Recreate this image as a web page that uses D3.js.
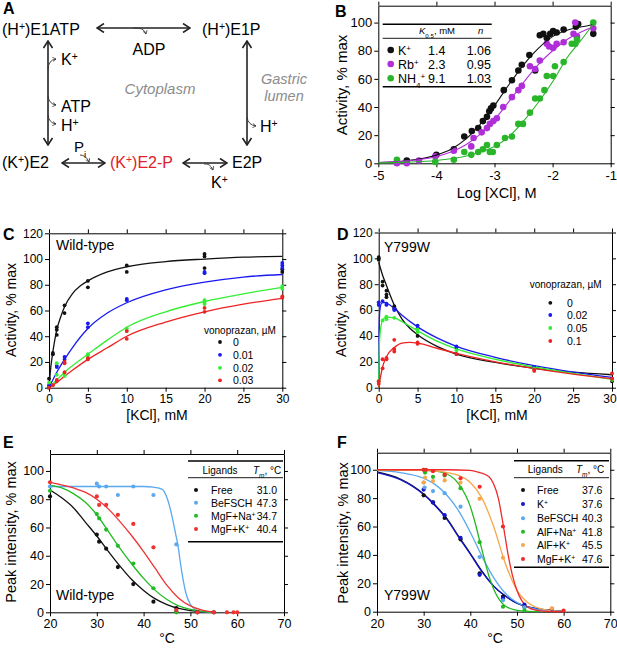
<!doctype html>
<html lang="en">
<head>
<meta charset="utf-8">
<title>H,K-ATPase cation and vonoprazan figure</title>
<script src="https://d3js.org/d3.v7.min.js"></script>
<style>
  body { margin: 0; background: #fff; }
  svg text { font-family: "Liberation Sans", Arial, sans-serif; }
</style>
</head>
<body>
<svg id="fig" xmlns="http://www.w3.org/2000/svg" width="617" height="650"></svg>
<script>

// ---------- B : log[XCl] (M) vs activity (% max)
var bCations = ["K^{+}", "Rb^{+}", "NH_{4}^{+}"];
var bK05 = ["1.4", "2.3", "9.1"];
var bHillN = ["1.06", "0.95", "1.03"];
var bXTicks = [-5, -4, -3, -2, -1];
var bYTicks = [0, 20, 40, 60, 80, 100];
var bPtsK = [[-4.51,2],[-4.0,6],[-3.7,10],[-3.52,19],[-3.39,23],[-3.28,25],[-3.2,30],[-3.13,33],
  [-3.09,37],[-3.06,39],[-3.02,41],[-2.84,52],[-2.7,59],[-2.59,66],[-2.53,70],[-2.4,77],[-2.3,66],
  [-2.22,91],[-2.16,92],[-2.1,89],[-2.04,92],[-1.99,94],[-1.93,93],[-1.81,95],[-1.6,97],[-1.56,99],[-1.3,92]];
var bPtsRb = [[-4.68,0],[-4.51,0],[-4.3,2],[-4.02,5],[-3.7,9],[-3.4,12],[-3.36,18],[-3.22,22],[-3.13,25],
  [-3.08,28],[-3.02,30],[-2.96,32],[-2.85,40],[-2.7,47],[-2.59,52],[-2.53,55],[-2.39,69],[-2.3,67],
  [-2.22,73],[-2.1,85],[-2.06,83],[-1.99,82],[-1.93,85],[-1.81,86],[-1.64,92],[-1.61,100],[-1.58,90],[-1.3,96]];
var bPtsNH4 = [[-4.68,2.5],[-4.02,1],[-3.7,2.5],[-3.52,8],[-3.4,6],[-3.28,8],[-3.2,10],[-3.13,13],[-3.08,8],
  [-3.03,8],[-2.96,13],[-2.82,18],[-2.7,19],[-2.59,28],[-2.51,28],[-2.39,36],[-2.3,46],[-2.22,46],
  [-2.14,52],[-2.1,62],[-1.99,62],[-1.96,69],[-1.81,72],[-1.67,85],[-1.61,85],[-1.58,88],[-1.3,100]];
var bFitK = [[-5,0.5],[-4.5,1.8],[-4,5.8],[-3.75,10],[-3.5,17],[-3.25,27.5],[-3,41],[-2.75,56],[-2.5,70],
  [-2.25,81.5],[-2,90],[-1.75,94.5],[-1.5,97],[-1.3,98.5]];
var bFitRb = [[-5,0.6],[-4.5,1.7],[-4,4.8],[-3.75,8],[-3.5,13],[-3.25,20.5],[-3,31],[-2.75,44],[-2.5,57.5],
  [-2.25,70],[-2,80],[-1.75,88],[-1.5,93.5],[-1.3,97]];
var bFitNH4 = [[-5,0.3],[-4.5,0.8],[-4,2],[-3.5,5],[-3.25,8],[-3,12],[-2.75,19],[-2.5,30],[-2.25,43],
  [-2,58],[-1.75,75],[-1.5,88],[-1.3,99]];

// ---------- C : wild-type, [KCl] (mM) vs activity
var cDoses = ["0", "0.01", "0.02", "0.03"];
var kclTicks = [0, 5, 10, 15, 20, 25, 30];
var actTicks = [0, 20, 40, 60, 80, 100, 120];
var cPts0 = [[0,7],[0,0],[0.5,27],[0.5,26],[1,47],[1,45],[1,41],[2,64],[2,58],[5,83],[5,78],[10,95],[10,90],
  [20,104],[20,102],[20,93],[30,92],[30,90]];
var cPts001 = [[0,2],[1,17],[1,16],[2,24],[2,22],[5,50],[5,47],[10,69],[10,68],[20,90],[20,89],[30,97],[30,95],[30,93]];
var cPts002 = [[0,4],[1,19],[1,10],[2,10],[2,9],[5,26],[5,25],[10,46],[10,44],[20,68],[20,66],[20,65],[30,79],[30,77]];
var cPts003 = [[0,0],[0.5,2],[1,6],[1,5],[2,20],[2,19],[2,12],[5,23],[5,22],[10,44],[10,38],[20,62],[20,59],[30,71],[30,70]];
var cFit0 = [[0,0],[0.25,17],[0.5,28],[1,45],[1.5,55],[2,63],[3,73],[4,79],[5,83],[7.5,90],[10,94],[15,98],
  [20,100],[25,101.5],[30,102]];
var cFit001 = [[0,0],[1,12],[2,22],[3,31],[5,46],[7.5,58],[10,66],[15,76],[20,82],[25,86],[30,88]];
var cFit002 = [[0,0],[1,6],[2,12],[3,17],[5,26],[7.5,37],[10,47],[15,59],[20,67],[25,73],[30,78]];
var cFit003 = [[0,0],[1,4],[2,9],[3,13.5],[5,22],[7.5,31],[10,40],[15,51],[20,59],[25,65],[30,69.5]];

// ---------- D : Y799W
var dDoses = ["0", "0.02", "0.05", "0.1"];
var dPts0 = [[0,101],[0,100],[0,99],[0.5,82],[0.5,79],[1,75],[1,72],[1,70],[2,63],[2,61],[5,40],[10,26],[20,15],[30,5]];
var dPts002 = [[0,66],[0,64],[0.5,67],[1,65],[1,64],[2,61],[2,60],[5,48],[5,46],[10,32],[10,31],[20,16],[30,7]];
var dPts005 = [[0,5],[0.5,52],[1,55],[1,53],[2,54],[5,45],[5,43],[10,29],[20,15],[30,6]];
var dPts01 = [[0,5],[0,3],[0.5,22],[0.5,15],[1,23],[1,22],[2,37],[2,30],[2,28],[5,35],[5,34],[10,26],
  [20,14],[20,13],[30,11],[30,7]];
var dFit0 = [[0,97],[0.5,87],[1,79],[2,64],[3,53],[4,46],[5,41],[7.5,32],[10,26],[15,19.5],[20,15],[25,12],[30,10]];
var dFit002 = [[0,0],[0.05,45],[0.15,60],[0.4,65.5],[0.8,66],[1,65.5],[2,61.5],[3,56],[5,47],[7.5,38.5],
  [10,32],[15,23.5],[20,17],[25,12],[30,8]];
var dFit005 = [[0,0],[0.1,35],[0.3,48],[0.6,53],[1,54.5],[2,54],[3,51],[5,44],[7.5,36],[10,30],[15,22],
  [20,16],[25,11],[30,6.5]];
var dFit01 = [[0,0],[0.25,9],[0.5,16],[1,24],[2,31],[3,34.5],[4,35],[5,34.5],[7.5,30.5],[10,26.5],[15,20],
  [20,15],[25,10.5],[30,7]];

// ---------- E : wild-type thermal shift
var tempTicks = [20, 30, 40, 50, 60, 70];
var peakTicks = [0, 20, 40, 60, 80, 100];
var eLigands = ["Free", "BeFSCH", "MgF+Na^{+}", "MgF+K^{+}"];
var eTm = ["31.0", "47.3", "34.7", "40.4"];
var ePtsFree = [[20,82],[30,55],[30.5,50],[32,45],[34.5,32],[37.8,20],[42.1,7.5],[47,3],[47,0.5],[51.5,0],[55,0]];
var ePtsBeF = [[20,89],[30,91],[30.5,89],[32,89],[34.5,83],[37.8,89],[42.1,83],[47,48]];
var ePtsMgNa = [[20,86],[30,69.5],[30.5,66.5],[32,58.5],[34.5,47],[37.8,34.5],[42.1,17],[47,0]];
var ePtsMgK = [[20,92],[30,82],[30.5,76],[32,76],[34.5,69],[37.8,62.5],[42.1,46],[47,1.6],[51.5,0],
  [55,0],[57.8,0],[59.2,0],[60,0]];
var eFitFree = [[20,86.5],[22.5,81],[25,74],[27.5,64],[30,54],[32.5,43],[35,32.5],[37.5,23],[40,15.5],
  [42.5,9.5],[45,5.5],[47.5,2.7],[50,1.2],[52.5,0.4],[55,0]];
var eFitBeF = [[20,89],[40,89],[42,88.5],[44,87],[45,81],[46,69],[47,53],[47.3,48],[48,32],[48.5,22],
  [49,14],[50,5.5],[51,2],[52,0.7],[55,0]];
var eFitMgNa = [[20,90],[22.5,88],[25,84],[27.5,78],[30,69],[32.5,57],[35,45],[37.5,34],[40,24],[42.5,15.5],
  [45,9],[47.5,4.5],[50,2],[52.5,0.6],[55,0]];
var eFitMgK = [[20,92],[25,88],[27.5,85],[30,80],[32.5,73],[35,64],[37.5,54],[40,43],[42.5,31],[45,19],
  [47.5,10],[50,4.5],[52.5,1.5],[55,0]];

// ---------- F : Y799W thermal shift
var fLigands = ["Free", "K^{+}", "BeFSCH", "AlF+Na^{+}", "AlF+K^{+}", "MgF+K^{+}"];
var fTm = ["37.6", "37.6", "40.3", "41.8", "45.5", "47.6"];
var fPtsFree = [[30,82],[32,77],[34.5,66],[37.9,51],[42,27],[47,10.6],[51.6,3.5]];
var fPtsK = [[30,86],[32,77],[34.5,68],[37.9,52],[42,26],[47,9.5],[51.6,5],[57.5,2]];
var fPtsBeF = [[30,91],[30.2,87.5],[32,85],[34.5,83.5],[37.9,74],[42,38.5],[47,8],[51.6,3]];
var fPtsAlNa = [[30,100],[30.3,98],[32,95],[34.5,96],[37.9,87],[42,49],[47,3.5],[51.6,1]];
var fPtsAlK = [[30,91],[30.3,94.5],[32,92],[34.5,92.5],[37.9,91],[42,79.5],[47,38],[57.5,2.4]];
var fPtsMgK = [[30,100],[30.5,100],[32,99],[34.5,96.5],[37.9,94],[42,88],[47,60],[60,0.7]];
var fFitFree = [[20,98.5],[25,93.5],[30,83],[32.5,75],[35,65.5],[37.5,53],[40,41],[42.5,28.5],[45,18],
  [47.5,11],[50,6],[52.5,3.2],[55,1.7],[57.5,0.9],[60,0.4]];
var fFitK = [[20,98],[25,93],[30,82.5],[32.5,74.5],[35,65],[37.5,52.5],[40,40.5],[42.5,28],[45,18],
  [47.5,11],[50,6],[52.5,3.3],[55,1.8],[57.5,1],[60,0.5]];
var fFitBeF = [[20,99.5],[25,98],[30,94],[32.5,89.5],[35,82],[37.5,71],[40,56],[42.5,39],[45,24],
  [47.5,13],[50,6.5],[52.5,3],[55,1.2],[57.5,0.5],[60,0.2]];
var fFitAlNa = [[20,100],[30,99.5],[32.5,99],[35,97],[37.5,90],[40,74],[41,63],[42,50],[43,37],[44,25],
  [45,16],[47.5,4],[50,1],[52.5,0.3],[55,0]];
var fFitAlK = [[20,100],[30,99.5],[35,98],[37.5,96],[40,91],[42.5,80],[45,60],[47.5,34],[50,15],
  [52.5,6],[55,2.2],[57.5,0.8],[60,0.3]];
var fFitMgK = [[20,100],[35,100],[40,99.5],[42,98],[44,95],[45,90],[46,80],[47,62],[47.6,50],[48,42],
  [49,26],[50,15],[51,8],[52,4],[53,2],[55,0.6],[57.5,0.1],[60,0]];

var FONT = '"Liberation Sans", Arial, sans-serif';
var svg = d3.select("#fig");

// text with ^{sup} and _{sub} pieces
function rich(sel, str) {
  str.split(/(\^\{[^}]*\}|_\{[^}]*\})/).forEach(function (p) {
    if (!p) return;
    if (p[0] === "^" || p[0] === "_") {
      sel.append("tspan")
        .attr("baseline-shift", p[0] === "^" ? "super" : "sub")
        .attr("font-size", "65%")
        .text(p.slice(2, -1));
    } else {
      sel.append("tspan").text(p);
    }
  });
  return sel;
}

function txt(g, x, y, str, size, opts) {
  opts = opts || {};
  var t = g.append("text").attr("x", x).attr("y", y)
    .attr("font-size", size)
    .attr("text-anchor", opts.anchor || "start")
    .attr("fill", opts.fill || "#000");
  if (opts.italic) t.attr("font-style", "italic");
  if (opts.bold) t.attr("font-weight", "bold");
  return rich(t, str);
}

function panel(o) {
  var x = d3.scaleLinear().domain(o.xd).range([o.l, o.r]);
  var y = d3.scaleLinear().domain(o.yd).range([o.b, o.t]);
  var g = svg.append("g");
  function st(a) {
    a.attr("font-family", FONT).attr("font-size", o.fs);
    a.selectAll("path, line").attr("stroke", "#000").attr("stroke-width", 1);
  }
  var bx = g.append("g").attr("transform", "translate(0," + o.b + ")")
    .call(d3.axisBottom(x).tickValues(o.xt).tickSize(4).tickSizeOuter(0).tickPadding(3).tickFormat(String)).call(st);
  // last label sits at the window edge, nudge it inside
  if (o.nudgeLast) bx.selectAll(".tick:last-of-type text").attr("dx", o.nudgeLast);
  g.append("g").attr("transform", "translate(" + o.l + ",0)")
    .call(d3.axisLeft(y).tickValues(o.yt).tickSize(4).tickSizeOuter(0).tickPadding(2).tickFormat(String)).call(st);
  g.append("g").attr("transform", "translate(0," + o.t + ")")
    .call(d3.axisTop(x).tickValues(o.xt).tickSize(4).tickSizeOuter(0).tickFormat("")).call(st);
  g.append("g").attr("transform", "translate(" + o.r + ",0)")
    .call(d3.axisRight(y).tickValues(o.yt).tickSize(4).tickSizeOuter(0).tickFormat("")).call(st);
  var line = d3.line().x(function (d) { return x(d[0]); }).y(function (d) { return y(d[1]); })
    .curve(d3.curveMonotoneX);
  return {
    g: g, x: x, y: y,
    curve: function (data, color, w) {
      g.append("path").datum(data).attr("d", line).attr("fill", "none")
        .attr("stroke", color).attr("stroke-width", w || 1.2);
    },
    dots: function (data, color, r) {
      g.append("g").selectAll("circle").data(data).join("circle")
        .attr("cx", function (d) { return x(d[0]); })
        .attr("cy", function (d) { return y(d[1]); })
        .attr("r", r).attr("fill", color);
    }
  };
}

function yTitle(x, y, str, size) {
  svg.append("text").attr("transform", "translate(" + x + "," + y + ") rotate(-90)")
    .attr("text-anchor", "middle").attr("font-size", size).text(str);
}

// ================= A : reaction scheme
(function () {
  var g = svg.append("g");
  var defs = svg.append("defs");
  defs.append("marker").attr("id", "chev").attr("viewBox", "0 0 10 10")
    .attr("refX", 9).attr("refY", 5).attr("markerWidth", 10).attr("markerHeight", 10)
    .attr("markerUnits", "userSpaceOnUse").attr("orient", "auto-start-reverse")
    .append("path").attr("d", "M2,0.5 L9,5 L2,9.5").attr("fill", "none")
    .attr("stroke", "#222").attr("stroke-width", 1.6);
  defs.append("marker").attr("id", "tiny").attr("viewBox", "0 0 6 6")
    .attr("refX", 5).attr("refY", 3).attr("markerWidth", 5).attr("markerHeight", 5)
    .attr("markerUnits", "userSpaceOnUse").attr("orient", "auto")
    .append("path").attr("d", "M1,0.5 L5,3 L1,5.5").attr("fill", "none")
    .attr("stroke", "#333").attr("stroke-width", 0.9);

  function arrow(x1, y1, x2, y2) {
    g.append("line").attr("x1", x1).attr("y1", y1).attr("x2", x2).attr("y2", y2)
      .attr("stroke", "#222").attr("stroke-width", 1.6)
      .attr("marker-start", "url(#chev)").attr("marker-end", "url(#chev)");
  }
  function hook(d) {
    g.append("path").attr("d", d).attr("fill", "none").attr("stroke", "#333")
      .attr("stroke-width", 0.9).attr("marker-end", "url(#tiny)");
  }

  txt(g, 3, 14, "A", 16, { bold: true });
  txt(g, 2, 35, "(H^{+})E1ATP", 16);
  txt(g, 202, 35, "(H^{+})E1P", 16);
  arrow(97, 28, 190, 28);
  hook("M133,28 Q144,27 146,34");
  txt(g, 149, 55, "ADP", 16, { anchor: "middle" });

  arrow(48, 41, 48, 145);
  hook("M48,70 Q48,60 56,59");
  hook("M48,96 Q49,104 56,105");
  hook("M48,115 Q49,123 56,124");
  txt(g, 61, 65, "K^{+}", 16);
  txt(g, 61, 112, "ATP", 16);
  txt(g, 61, 131, "H^{+}", 16);

  txt(g, 160, 94, "Cytoplasm", 15, { anchor: "middle", italic: true, fill: "#8c8c8c" });
  txt(g, 284, 84, "Gastric", 14.5, { anchor: "middle", italic: true, fill: "#8c8c8c" });
  txt(g, 284, 100.5, "lumen", 14.5, { anchor: "middle", italic: true, fill: "#8c8c8c" });

  arrow(247, 41, 247, 145);
  hook("M247,117 Q248,125 256,126");
  txt(g, 260, 132, "H^{+}", 16);

  txt(g, 2, 168, "(K^{+})E2", 16);
  arrow(62, 163, 105, 163);
  txt(g, 74, 152, "P_{i}", 15);
  hook("M80,155 Q86,155 89,162");
  txt(g, 110, 168, "(K^{+})E2-P", 16, { fill: "#e0202a" });
  arrow(183, 163, 227, 163);
  hook("M204,164 Q210,163 213,170");
  txt(g, 232, 168, "E2P", 16);
  txt(g, 211, 188, "K^{+}", 16);
})();

// ================= B
(function () {
  var p = panel({ l: 378.3, r: 610.7, b: 163.3, t: 5.7, xd: [-5, -1], yd: [0, 112],
    xt: bXTicks, yt: bYTicks, fs: 13 });
  var cols = ["#111111", "#b02fd9", "#2bb52b"];
  var pts = [bPtsK, bPtsRb, bPtsNH4], fits = [bFitK, bFitRb, bFitNH4];
  pts.forEach(function (d, i) { p.dots(d, cols[i], 3.3); });
  fits.forEach(function (d, i) { p.curve(d, cols[i], 1.1); });

  var g = p.g;
  g.append("line").attr("x1", 382.7).attr("x2", 491.7).attr("y1", 24.3).attr("y2", 24.3).attr("stroke", "#000").attr("stroke-width", 1.4);
  g.append("line").attr("x1", 382.7).attr("x2", 491.7).attr("y1", 38.3).attr("y2", 38.3).attr("stroke", "#000").attr("stroke-width", 0.9);
  g.append("line").attr("x1", 382.7).attr("x2", 491.7).attr("y1", 86.7).attr("y2", 86.7).attr("stroke", "#000").attr("stroke-width", 1.4);
  var h = g.append("text").attr("x", 419).attr("y", 34).attr("font-size", 9.5);
  h.append("tspan").attr("font-style", "italic").text("K");
  h.append("tspan").attr("baseline-shift", "sub").attr("font-size", "65%").text("0.5");
  h.append("tspan").text(", mM");
  txt(g, 478, 34, "n", 9.5, { italic: true });
  var rows = [50, 64, 78.3];
  bCations.forEach(function (c, i) {
    g.append("circle").attr("cx", 390.7).attr("cy", rows[i]).attr("r", 3.3).attr("fill", cols[i]);
    txt(g, 398, rows[i] + 4.5, c, 12.5);
    txt(g, 428, rows[i] + 4.5, bK05[i], 12.5);
    txt(g, 491, rows[i] + 4.5, bHillN[i], 12.5, { anchor: "end" });
  });
  txt(svg, 335, 17, "B", 16, { bold: true });
  yTitle(346.5, 85, "Activity,  % max", 15);
  txt(svg, 496.7, 198, "Log [XCl], M", 14.5, { anchor: "middle" });
})();

// ================= C
var cdCols = ["#111111", "#1a1af0", "#33ee33", "#ee2222"];
(function () {
  var p = panel({ l: 49, r: 282.3, b: 387.7, t: 233.3, xd: [0, 30], yd: [0, 120],
    xt: kclTicks, yt: actTicks, fs: 12 });
  [cFit0, cFit001, cFit002, cFit003].forEach(function (d, i) { p.curve(d, cdCols[i], 1.3); });
  [cPts0, cPts001, cPts002, cPts003].forEach(function (d, i) { p.dots(d, cdCols[i], 1.9); });
  var g = p.g;
  txt(g, 56, 250, "Wild-type", 14);
  txt(g, 204, 334, "vonoprazan, \u00b5M", 10);
  var rows = [342, 354.8, 367.8, 380.3];
  cDoses.forEach(function (c, i) {
    g.append("circle").attr("cx", 220).attr("cy", rows[i]).attr("r", 1.9).attr("fill", cdCols[i]);
    txt(g, 233, rows[i] + 3.8, c, 10.5);
  });
  txt(svg, 3, 240, "C", 16, { bold: true });
  yTitle(16, 310, "Activity,  % max", 14);
  txt(svg, 157, 420, "[KCl], mM", 14, { anchor: "middle" });
})();

// ================= D
(function () {
  var p = panel({ l: 378.7, r: 612, b: 387.7, t: 232.5, xd: [0, 30], yd: [0, 120],
    xt: kclTicks, yt: actTicks, fs: 12, nudgeLast: -2.5 });
  [dFit0, dFit002, dFit005, dFit01].forEach(function (d, i) { p.curve(d, cdCols[i], 1.3); });
  [dPts0, dPts002, dPts005, dPts01].forEach(function (d, i) { p.dots(d, cdCols[i], 1.9); });
  var g = p.g;
  txt(g, 384, 252, "Y799W", 14);
  txt(g, 529.7, 288, "vonoprazan, \u00b5M", 10);
  var rows = [302.8, 315, 328, 341];
  dDoses.forEach(function (c, i) {
    g.append("circle").attr("cx", 550.3).attr("cy", rows[i]).attr("r", 1.9).attr("fill", cdCols[i]);
    txt(g, 567, rows[i] + 3.8, c, 10.5);
  });
  txt(svg, 337, 240, "D", 16, { bold: true });
  yTitle(345.7, 310, "Activity,  % max", 14);
  txt(svg, 497, 420, "[KCl], mM", 14, { anchor: "middle" });
})();

function tmTable(g, x1, x2, yTop, yHead, yBot, ligX, tmX, dotX, labX, valX, rows, labels, vals, cols) {
  g.append("line").attr("x1", x1).attr("x2", x2).attr("y1", yTop).attr("y2", yTop).attr("stroke", "#000").attr("stroke-width", 1.4);
  g.append("line").attr("x1", x1).attr("x2", x2).attr("y1", yHead).attr("y2", yHead).attr("stroke", "#000").attr("stroke-width", 0.9);
  g.append("line").attr("x1", x1).attr("x2", x2).attr("y1", yBot).attr("y2", yBot).attr("stroke", "#000").attr("stroke-width", 1.4);
  txt(g, ligX, yTop + 12.5, "Ligands", 10, { anchor: "middle" });
  var h = g.append("text").attr("x", tmX).attr("y", yTop + 12.5).attr("font-size", 10);
  h.append("tspan").attr("font-style", "italic").text("T");
  h.append("tspan").attr("baseline-shift", "sub").attr("font-size", "65%").attr("font-style", "italic").text("m");
  h.append("tspan").text(", \u00b0C");
  labels.forEach(function (l, i) {
    g.append("circle").attr("cx", dotX).attr("cy", rows[i]).attr("r", 2).attr("fill", cols[i]);
    txt(g, labX, rows[i] + 3.8, l, 10.5);
    txt(g, valX, rows[i] + 3.8, vals[i], 10.5);
  });
}

// ================= E
(function () {
  var cols = ["#111111", "#5aa8ee", "#22bb22", "#ee3333"];
  var p = panel({ l: 50, r: 284, b: 612.3, t: 454, xd: [20, 70], yd: [0, 112],
    xt: tempTicks, yt: peakTicks, fs: 12.5 });
  [eFitFree, eFitBeF, eFitMgNa, eFitMgK].forEach(function (d, i) { p.curve(d, cols[i], 1.3); });
  [ePtsFree, ePtsBeF, ePtsMgNa, ePtsMgK].forEach(function (d, i) { p.dots(d, cols[i], 2.1); });
  tmTable(p.g, 188, 283, 461, 477.7, 541.7, 220, 253, 196, 211, 256.7,
    [490, 502.7, 515.7, 529], eLigands, eTm, cols);
  txt(p.g, 56, 600, "Wild-type", 14);
  txt(svg, 3, 448, "E", 16, { bold: true });
  yTitle(15.5, 532, "Peak intensity,  % max", 14.5);
  txt(svg, 167, 643, "\u00b0C", 14, { anchor: "middle" });
})();

// ================= F
(function () {
  var cols = ["#111111", "#1515c8", "#5aa8ee", "#22b822", "#f7a64a", "#ee2a2a"];
  var p = panel({ l: 377, r: 610.3, b: 611.7, t: 452.7, xd: [20, 70], yd: [0, 112],
    xt: tempTicks, yt: peakTicks, fs: 12.5 });
  [fFitFree, fFitK, fFitBeF, fFitAlNa, fFitAlK, fFitMgK].forEach(function (d, i) { p.curve(d, cols[i], 1.3); });
  [fPtsFree, fPtsK, fPtsBeF, fPtsAlNa, fPtsAlK, fPtsMgK].forEach(function (d, i) { p.dots(d, cols[i], 2.1); });
  tmTable(p.g, 514, 609, 460.7, 477.7, 567.3, 545.3, 576, 523, 537, 582,
    [490, 504, 518.3, 531.7, 545, 559], fLigands, fTm, cols);
  txt(p.g, 384, 600, "Y799W", 14);
  txt(svg, 337, 448, "F", 16, { bold: true });
  yTitle(347.5, 533, "Peak intensity,  % max", 14.5);
  txt(svg, 495, 643, "\u00b0C", 14, { anchor: "middle" });
})();

</script>
</body>
</html>
